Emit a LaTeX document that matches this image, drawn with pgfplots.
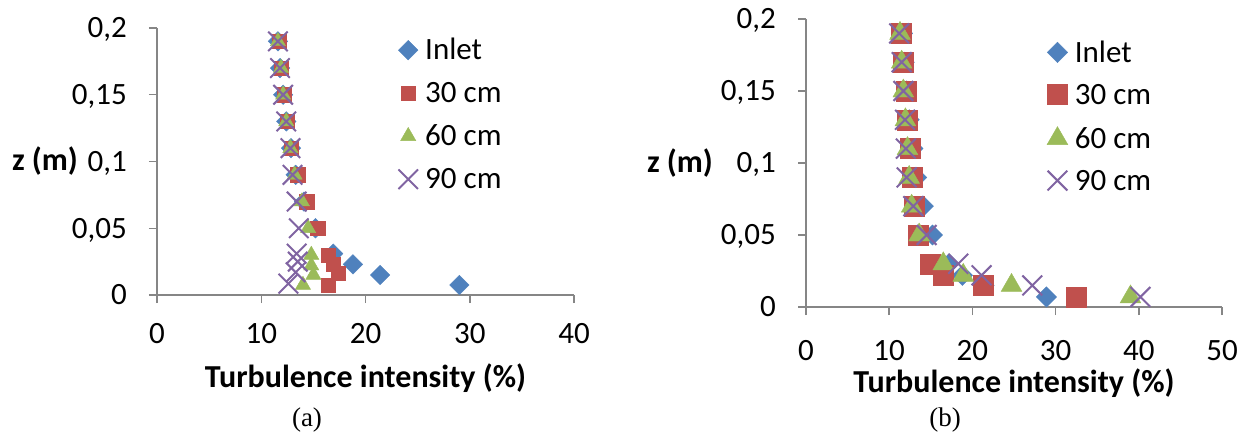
\documentclass[border=0pt]{standalone}
\usepackage{fontspec}
\setmainfont{Carlito}
\newfontfamily\timesfont{Liberation Serif}
\usepackage{pgfplots}
\pgfplotsset{compat=1.18}
\definecolor{cblue}{HTML}{4F81BD}
\definecolor{cred}{HTML}{C0504D}
\definecolor{cgreen}{HTML}{9BBB59}
\definecolor{cpurple}{HTML}{8064A2}
\definecolor{caxis}{HTML}{868686}
\newcommand{\bigfont}{\fontsize{31}{37}\selectfont}
\newcommand{\labfont}{\fontsize{32}{38}\selectfont\bfseries}
\pgfplotsset{
  legend image code/.code={\path[draw=none,fill=none] (-10pt,-10pt) rectangle (10pt,10pt); \draw[#1] plot coordinates {(0pt,0pt)};},
  excel/.style={
    scale only axis,
    axis lines*=left,
    axis line style={caxis, line width=1.5pt},
    tick align=outside,
    major tick length=8pt,
    tick style={caxis, line width=1.5pt},
    ymin=0, ymax=0.2,
    ytick={0,0.05,0.1,0.15,0.2},
    yticklabels={0,{0,05},{0,1},{0,15},{0,2}},
    tick label style={font=\bigfont, black, inner sep=0pt, text height=19.5pt, text depth=0pt},
    yticklabel style={xshift=-22pt},
    every axis y label/.style={at={(axis description cs:0,0.5)}, anchor=center, font=\labfont},
    every axis x label/.style={at={(axis description cs:0.5,0)}, anchor=center, font=\labfont},
    clip=false,
    legend cell align=left,
    legend style={draw=none, fill=none, inner sep=0pt, column sep=7pt, font=\bigfont, anchor=north west, nodes={inner sep=0pt, text height=19.5pt, text depth=0pt}},
  },
}
\begin{document}
\begin{tikzpicture}
\useasboundingbox (0pt,0pt) rectangle (1253pt,-438pt);
% ---------------- panel (a)
\begin{axis}[excel,
  at={(157pt,-295pt)}, anchor=south west,
  width=417pt, height=267pt,
  xmin=0, xmax=40, xtick={0,10,20,30,40},
  xticklabels={0,10,20,30,40},
  xticklabel style={yshift=-20.5pt},
  xlabel={Turbulence intensity (\%)},
  ylabel={z (m)},
  every axis x label/.append style={yshift=-83pt},
  every axis y label/.append style={xshift=-112pt},
  legend style={at={(0.578,0.955)}, row sep=23pt},
]
\addplot[only marks, mark=square*, mark size=6.9pt, mark options={rotate=45, draw=cblue, fill=cblue}] coordinates {
(11.6,0.19) (11.8,0.17) (12.1,0.15) (12.4,0.13) (12.85,0.11) (13.3,0.09) (14.1,0.07) (15.2,0.05) (16.9,0.031) (18.8,0.023) (21.4,0.015) (29.0,0.0075)};
\addlegendentry{Inlet}
\addplot[only marks, mark=square*, mark size=7.2pt, mark options={draw=cred, fill=cred}] coordinates {
(11.7,0.19) (11.9,0.17) (12.2,0.15) (12.5,0.13) (12.9,0.11) (13.5,0.09) (14.35,0.07) (15.4,0.05) (16.4,0.03) (16.9,0.023) (17.4,0.0165) (16.4,0.0075)};
\addlegendentry{30 cm}
\addplot[only marks, mark=triangle*, mark size=8.8pt, mark options={draw=cgreen, fill=cgreen}] coordinates {
(11.6,0.19) (11.9,0.17) (12.1,0.15) (12.4,0.13) (12.8,0.11) (13.2,0.09) (13.9,0.07) (14.5,0.05) (14.8,0.03) (14.8,0.022) (15.0,0.015) (14.0,0.0075)};
\addlegendentry{60 cm}
\addplot[only marks, mark=x, mark size=13.8pt, mark options={draw=cpurple, line width=2pt}] coordinates {
(11.6,0.19) (11.8,0.17) (12.1,0.15) (12.4,0.13) (12.8,0.11) (13.0,0.09) (13.4,0.07) (13.6,0.05) (13.4,0.031) (13.5,0.025) (13.3,0.017) (12.6,0.0085)};
\addlegendentry{90 cm}
\end{axis}
% ---------------- panel (b)
\begin{axis}[excel,
  at={(806pt,-307pt)}, anchor=south west,
  width=416pt, height=288pt,
  xmin=0, xmax=50, xtick={0,10,20,30,40,50},
  xticklabels={0,10,20,30,40,50},
  xticklabel style={yshift=-25.5pt},
  xlabel={Turbulence intensity (\%)},
  ylabel={z (m)},
  every axis x label/.append style={yshift=-76pt},
  every axis y label/.append style={xshift=-126pt},
  legend style={at={(0.579,0.920)}, row sep=22pt},
]
\addplot[only marks, mark=square*, mark size=7.2pt, mark options={rotate=45, draw=cblue, fill=cblue}] coordinates {
(11.6,0.19) (11.8,0.17) (12.1,0.15) (12.4,0.13) (12.85,0.11) (13.3,0.09) (14.1,0.07) (15.2,0.05) (17.2,0.03) (18.8,0.022) (21.4,0.015) (28.9,0.007)};
\addlegendentry{Inlet}
\addplot[only marks, mark=square*, mark size=10pt, mark options={draw=cred, fill=cred}] coordinates {
(11.4,0.19) (11.7,0.17) (12.0,0.15) (12.2,0.13) (12.5,0.11) (12.8,0.09) (13.0,0.07) (13.5,0.05) (14.9,0.03) (16.5,0.022) (21.3,0.015) (32.5,0.007)};
\addlegendentry{30 cm}
\addplot[only marks, mark=triangle*, mark size=12pt, mark options={draw=cgreen, fill=cgreen}] coordinates {
(11.3,0.19) (11.5,0.17) (11.7,0.15) (11.95,0.13) (12.2,0.11) (12.4,0.09) (12.7,0.07) (13.6,0.05) (16.5,0.03) (18.9,0.022) (24.7,0.015) (39.0,0.007)};
\addlegendentry{60 cm}
\addplot[only marks, mark=x, mark size=14pt, mark options={draw=cpurple, line width=2pt}] coordinates {
(11.2,0.19) (11.5,0.17) (11.7,0.15) (11.9,0.13) (12.0,0.11) (12.1,0.09) (12.9,0.07) (14.5,0.05) (18.3,0.03) (21.1,0.022) (27.2,0.015) (40.2,0.007)};
\addlegendentry{90 cm}
\end{axis}
\node[font=\timesfont\fontsize{27}{31}\selectfont] at (307pt,-420pt) {(a)};
\node[font=\timesfont\fontsize{27}{31}\selectfont] at (945pt,-420pt) {(b)};
\end{tikzpicture}
\end{document}
